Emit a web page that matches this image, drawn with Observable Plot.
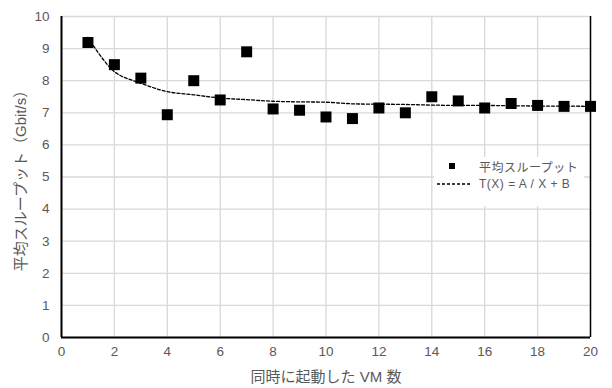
<!DOCTYPE html>
<html><head><meta charset="utf-8">
<script src="https://cdn.jsdelivr.net/npm/d3@7"></script>
<script src="https://cdn.jsdelivr.net/npm/@observablehq/plot@0.6"></script>
<style>
body{margin:0;background:#fff;}
#wrap{position:relative;width:612px;height:388px;font-family:"Liberation Sans","Noto Sans CJK JP",sans-serif;}
#legend{position:absolute;left:434px;top:157px;width:150px;height:49px;background:#fff;font-size:12px;color:#595959;letter-spacing:0.5px;}
#legend .row{position:absolute;left:0;height:16px;display:flex;align-items:center;white-space:nowrap;}
</style></head>
<body><div id="wrap"></div>
<script>
const vmCounts = [1,2,3,4,5,6,7,8,9,10,11,12,13,14,15,16,17,18,19,20];
const throughput = [9.19,8.50,8.08,6.94,8.00,7.40,8.90,7.12,7.08,6.87,6.82,7.15,7.00,7.50,7.37,7.15,7.29,7.23,7.20,7.20];
const fitted = [9.35,8.28,7.92,7.66,7.56,7.46,7.41,7.36,7.34,7.33,7.28,7.27,7.26,7.24,7.23,7.23,7.22,7.21,7.21,7.20];
const xTicks = [0,2,4,6,8,10,12,14,16,18,20];
const yTicks = [0,1,2,3,4,5,6,7,8,9,10];
const seriesName = "平均スループット";
const fitName = "T(X) = A / X + B";
const xLabel = "同時に起動した VM 数";
const yLabel = "平均スループット（Gbit/s）";

const pts = vmCounts.map((x,i)=>({x, y: throughput[i]}));
const fit = vmCounts.map((x,i)=>({x, y: fitted[i]}));
const FONT = '"Liberation Sans","Noto Sans CJK JP",sans-serif';

const chart = Plot.plot({
  width: 612, height: 388,
  marginLeft: 61, marginRight: 22, marginTop: 16, marginBottom: 51,
  style: {fontFamily: FONT, fontSize: "13.5px", color: "#595959", background: "#fff"},
  x: {domain: [0,20]},
  y: {domain: [0,10]},
  marks: [
    Plot.gridX(xTicks, {stroke: "#d9d9d9", strokeOpacity: 1, strokeWidth: 1.3}),
    Plot.gridY(yTicks, {stroke: "#d9d9d9", strokeOpacity: 1, strokeWidth: 1.3}),
    Plot.axisX(xTicks, {tickSize: 0, tickPadding: 9, fontSize: 13.5, fill: "#595959", label: null}),
    Plot.axisX({ticks: [], label: xLabel, labelAnchor: "center", labelArrow: "none", labelOffset: 44, fontSize: 15, fill: "#595959"}),
    Plot.axisY(yTicks, {tickSize: 0, tickPadding: 12, fontSize: 13.5, fill: "#595959", label: null}),
    Plot.axisY({ticks: [], label: yLabel, labelAnchor: "center", labelArrow: "none", labelOffset: 46, fontSize: 15, fill: "#595959"}),
    Plot.ruleX([0], {stroke: "#000", strokeWidth: 2}),
    Plot.ruleX([20], {stroke: "#000", strokeWidth: 1.5}),
    Plot.ruleY([0], {stroke: "#000", strokeWidth: 2}),
    Plot.line(fit, {x: "x", y: "y", stroke: "#000", strokeWidth: 1.3, strokeDasharray: "3,2", curve: "catmull-rom"}),
    Plot.dot(pts, {x: "x", y: "y", symbol: "square", r: 6.2, fill: "#000", stroke: "none"})
  ]
});
const wrap = document.getElementById("wrap");
wrap.appendChild(chart);
const lg = document.createElement("div");
lg.id = "legend";
lg.innerHTML = `
<div class="row" style="top:1px"><svg width="45" height="16"><rect x="15" y="5" width="6" height="6" fill="#000"/></svg><span>${seriesName}</span></div>
<div class="row" style="top:19px"><svg width="45" height="16"><line x1="3" x2="37" y1="8" y2="8" stroke="#000" stroke-width="1.3" stroke-dasharray="3,2"/></svg><span>${fitName}</span></div>`;
wrap.appendChild(lg);
</script></body></html>
